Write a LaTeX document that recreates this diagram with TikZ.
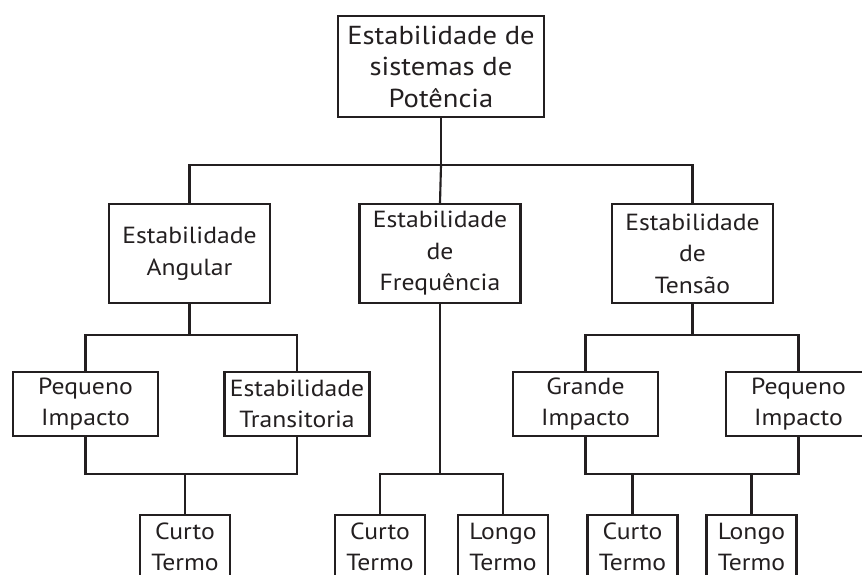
\documentclass[tikz,border=0pt]{standalone}
\usepackage{fontspec}
\setmainfont[FakeStretch=1.1]{PT Sans}
\usepackage{tikz}

\definecolor{inkblack}{HTML}{231F20}

\tikzset{
	box/.style={draw=inkblack, line width=1.6pt, inner sep=0pt, align=center, text=inkblack,
		font=\fontsize{17.5}{23.6}\selectfont},
	rootbox/.style={box, minimum width=154.5pt, minimum height=75.75pt,
		font=\fontsize{19.5}{23.6}\selectfont},
	mainbox/.style={box, minimum width=120.75pt, minimum height=74.25pt},
	subbox/.style={box, minimum width=108.75pt, minimum height=48pt},
	termbox/.style={box, minimum width=67.5pt, minimum height=48pt},
	wire/.style={draw=inkblack, line width=1.6pt}
}

\begin{document}
\begin{tikzpicture}[x=0.75pt, y=-0.75pt]
		\useasboundingbox (0, 0) rectangle (862, 574);
		% boxes
		\node[rootbox] (root) at (441, 66.5) {Estabilidade de\\sistemas de\\Potência};
		\node[mainbox] (ang) at (189.5, 253.5) {Estabilidade\\Angular};
		\node[mainbox] (freq) at (440, 253.5) {Estabilidade\\de\\Frequência};
		\node[mainbox] (ten) at (692.5, 253.5) {Estabilidade\\de\\Tensão};
		\node[subbox] (pl) at (85.5, 404) {Pequeno\\Impacto};
		\node[subbox] (tr) at (297, 404) {Estabilidade\\Transitoria};
		\node[subbox] (gi) at (585.5, 404) {Grande\\Impacto};
		\node[subbox] (pr) at (798.5, 404) {Pequeno\\Impacto};
		\foreach \name/\x/\txt in {cl/185/Curto, cm/380/Curto, lm/503/Longo, cr/632.5/Curto, lr/751.5/Longo}
			\node[termbox] (\name) at (\x, 547) {\txt\\Termo};
		% connectors
		\draw[wire] (root.south) -- ++(0, 47) coordinate (b1);
		\draw[wire] (ang.north) |- (b1) -| (ten.north);
		\draw[wire] (b1) -- (freq.north);
		\draw[wire] (ang.south) -- ++(0, 31) coordinate (b2);
		\draw[wire] (pl.north) |- (b2) -| (tr.north);
		\draw[wire] (pl.south) -- ++(0, 37) coordinate (b3) -| (tr.south);
		\draw[wire] (cl.north) -- (cl.north |- b3);
		\draw[wire] (freq.south) -- ++(0, 170) coordinate (b4);
		\draw[wire] (cm.north) |- (b4) -| (lm.north);
		\draw[wire] (ten.south) -- ++(0, 31) coordinate (b5);
		\draw[wire] (gi.north) |- (b5) -| (pr.north);
		\draw[wire] (gi.south) -- ++(0, 37) coordinate (b6) -| (pr.south);
		\foreach \name in {cr, lr}
			\draw[wire] (\name.north) -- (\name.north |- b6);
	\end{tikzpicture}
\end{document}
